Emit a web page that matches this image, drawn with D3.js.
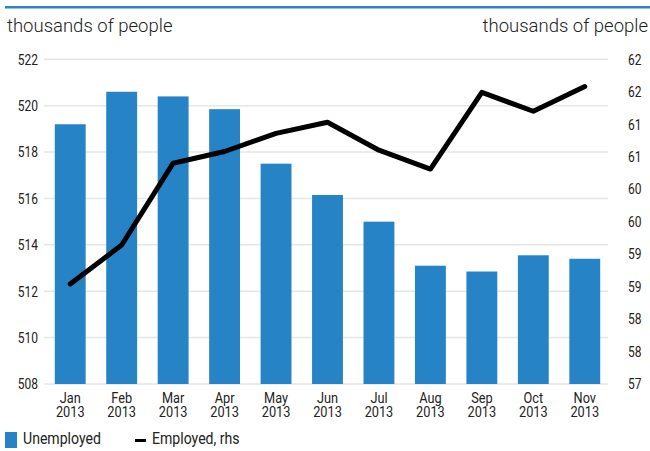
<!DOCTYPE html>
<html>
<head>
<meta charset="utf-8">
<script src="https://cdn.jsdelivr.net/npm/d3@7"></script>
<style>
  body { margin: 0; background: #fff; }
  text { font-family: "Roboto", sans-serif; fill: #222; }
  .title { font-family: "Roboto", sans-serif; font-weight: 300; font-size: 18.5px; fill: #222; }
</style>
</head>
<body>
<div id="vis-container"></div>
<script>
var months = ["Jan", "Feb", "Mar", "Apr", "May", "Jun", "Jul", "Aug", "Sep", "Oct", "Nov"];
var year = "2013";
var unemployed = [519.2, 520.6, 520.4, 519.85, 517.5, 516.15, 515.0, 513.1, 512.85, 513.55, 513.4];
var employed = [58.54, 59.14, 60.4, 60.58, 60.86, 61.03, 60.6, 60.31, 61.49, 61.2, 61.58];
var leftTicks = [508, 510, 512, 514, 516, 518, 520, 522];
var rightTicks = [57, 57.5, 58, 58.5, 59, 59.5, 60, 60.5, 61, 61.5, 62];

var w = 650, h = 451;
var top_ = 59.3, bottom = 384;
var squeeze = "scale(0.8,1)"; // fake a condensed face

var svg = d3.select("#vis-container")
    .append("svg")
    .attr("width", w)
    .attr("height", h);

// blue rule across the top
svg.append("rect")
    .attr("x", 5).attr("y", 6)
    .attr("width", w - 5).attr("height", 2.5)
    .attr("fill", "#2a84c6");

svg.append("text").attr("class", "title")
    .attr("x", 7).attr("y", 32)
    .text("thousands of people");
svg.append("text").attr("class", "title")
    .attr("x", 648).attr("y", 32)
    .attr("text-anchor", "end")
    .text("thousands of people");

var xScale = d3.scaleBand()
    .domain(months)
    .range([44.5, 610.5])
    .paddingInner(0.4)
    .paddingOuter(0.2);

var yLeft = d3.scaleLinear().domain([508, 522]).range([bottom, top_]);
var yRight = d3.scaleLinear().domain([57, 62]).range([bottom, top_]);

// grid lines
svg.append("g")
    .selectAll("line")
    .data(leftTicks)
    .enter().append("line")
    .attr("x1", 44).attr("x2", 608)
    .attr("y1", function(d) { return yLeft(d); })
    .attr("y2", function(d) { return yLeft(d); })
    .attr("stroke", "#e6e6e6")
    .attr("stroke-width", 1.5);

// left axis
var yAxisL = d3.axisLeft(yLeft).tickValues(leftTicks).tickSize(0).tickPadding(0);
var gl = svg.append("g")
    .attr("transform", "translate(38,0)")
    .call(yAxisL);
gl.select(".domain").remove();
gl.selectAll("text").attr("font-size", 15).attr("fill", "#222")
    .attr("font-family", "Roboto, sans-serif")
    .attr("transform", squeeze);

// right axis
var yAxisR = d3.axisRight(yRight).tickValues(rightTicks).tickSize(0).tickPadding(0)
    .tickFormat(d3.format(".0f"));
var gr = svg.append("g")
    .attr("transform", "translate(628,0)")
    .call(yAxisR);
gr.select(".domain").remove();
gr.selectAll("text").attr("font-size", 15).attr("fill", "#222")
    .attr("font-family", "Roboto, sans-serif")
    .attr("transform", squeeze);

// bars
svg.selectAll(".bar")
    .data(unemployed)
    .enter().append("rect")
    .attr("class", "bar")
    .attr("x", function(d, i) { return xScale(months[i]); })
    .attr("width", xScale.bandwidth())
    .attr("y", function(d) { return yLeft(d); })
    .attr("height", function(d) { return bottom - yLeft(d); })
    .attr("fill", "#2683c6");

// line
var line = d3.line()
    .x(function(d, i) { return xScale(months[i]) + xScale.bandwidth() / 2; })
    .y(function(d) { return yRight(d); });

svg.append("path")
    .datum(employed)
    .attr("d", line)
    .attr("fill", "none")
    .attr("stroke", "#000")
    .attr("stroke-width", 5)
    .attr("stroke-linejoin", "round")
    .attr("stroke-linecap", "round");

// x axis: month + year on two lines
var xAxis = d3.axisBottom(xScale).tickSize(0);
var gx = svg.append("g")
    .attr("transform", "translate(0," + bottom + ")")
    .call(xAxis);
gx.select(".domain").remove();
gx.selectAll("text")
    .attr("font-size", 15).attr("fill", "#222")
    .attr("font-family", "Roboto, sans-serif")
    .attr("y", 18.8).attr("dy", 0)
    .attr("transform", "scale(0.85,1)")
    .text(null)
    .each(function(d) {
        var t = d3.select(this);
        t.append("tspan").attr("x", 0).text(d);
        t.append("tspan").attr("x", 0).attr("dy", 14).text(year);
    });

// legend
svg.append("rect")
    .attr("x", 5).attr("y", 432)
    .attr("width", 12).attr("height", 16)
    .attr("fill", "#2683c6");
svg.append("text")
    .attr("transform", "translate(23,444) scale(0.88,1)")
    .attr("font-size", 16)
    .text("Unemployed");
svg.append("line")
    .attr("x1", 135).attr("x2", 146)
    .attr("y1", 440.5).attr("y2", 440.5)
    .attr("stroke", "#000").attr("stroke-width", 3);
svg.append("text")
    .attr("transform", "translate(152,444) scale(0.88,1)")
    .attr("font-size", 16)
    .text("Employed, rhs");
</script>
</body>
</html>
